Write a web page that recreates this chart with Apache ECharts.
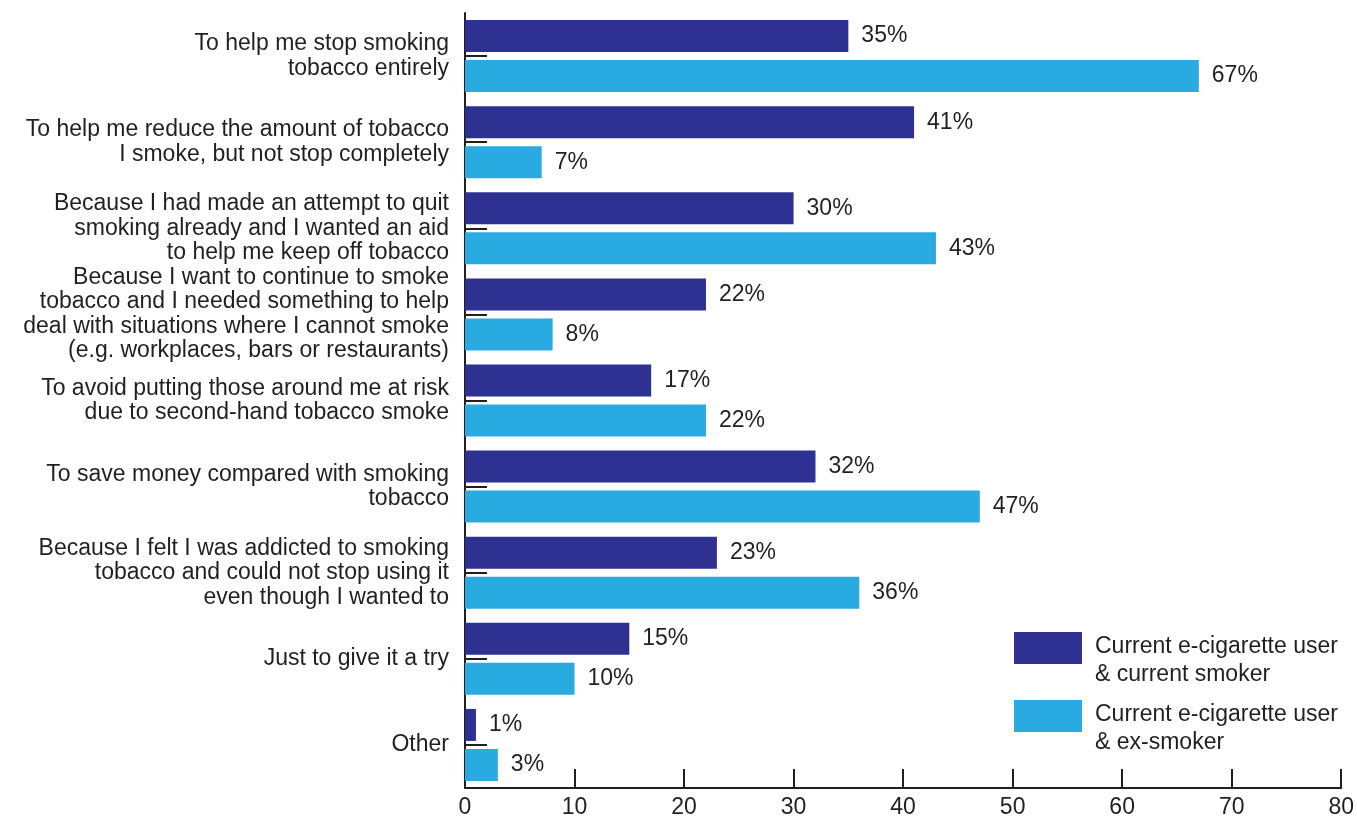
<!DOCTYPE html>
<html>
<head>
<meta charset="utf-8">
<script src="https://cdn.jsdelivr.net/npm/echarts@6/dist/echarts.min.js"></script>
<style>
  html, body { margin: 0; padding: 0; background: #fff; }
  #chart { width: 1357px; height: 819px; }
</style>
</head>
<body>
<div id="chart"></div>
<script>
var categories = [
  'To help me stop smoking\ntobacco entirely',
  'To help me reduce the amount of tobacco\nI smoke, but not stop completely',
  'Because I had made an attempt to quit\nsmoking already and I wanted an aid\nto help me keep off tobacco',
  'Because I want to continue to smoke\ntobacco and I needed something to help\ndeal with situations where I cannot smoke\n(e.g. workplaces, bars or restaurants)',
  'To avoid putting those around me at risk\ndue to second-hand tobacco smoke',
  'To save money compared with smoking\ntobacco',
  'Because I felt I was addicted to smoking\ntobacco and could not stop using it\neven though I wanted to',
  'Just to give it a try',
  'Other'
];
var seriesNames = [
  'Current e-cigarette user\n& current smoker',
  'Current e-cigarette user\n& ex-smoker'
];
var currentSmoker = [35, 41, 30, 22, 17, 32, 23, 15, 1];
var exSmoker = [67, 7, 43, 8, 22, 47, 36, 10, 3];

var font = 'Liberation Sans, Arial, sans-serif';
var ink = '#231f20';
var chart = echarts.init(document.getElementById('chart'));

// swatch sits in the top part of the legend item, text hangs below it
var swatch = 'path://M0,0h68v32h-68z M0,58h0.01v0.01h-0.01z';

function barSeries(name, data, color) {
  return {
    name: name,
    type: 'bar',
    data: data,
    barWidth: 32,
    barGap: '25%',
    itemStyle: { color: color },
    label: {
      show: true,
      position: 'right',
      distance: 13,
      formatter: '{c}%',
      color: ink,
      fontSize: 23,
      fontFamily: font
    }
  };
}

chart.setOption({
  animation: false,
  grid: { left: 465, right: 14, top: 13, bottom: 31, containLabel: false },
  legend: {
    orient: 'vertical',
    left: 1009,
    top: 627,
    itemWidth: 68,
    itemHeight: 58,
    itemGap: 10,
    icon: swatch,
    textStyle: {
      fontSize: 23, fontFamily: font, color: ink,
      lineHeight: 28, padding: [0, 0, 0, 8]
    },
    data: seriesNames
  },
  xAxis: {
    type: 'value',
    min: 0,
    max: 80,
    interval: 10,
    axisLine: { show: true, lineStyle: { color: ink, width: 2 } },
    axisTick: { show: true, inside: true, length: 19, lineStyle: { color: ink, width: 2 } },
    axisLabel: { fontSize: 23, fontFamily: font, color: ink, margin: 8 },
    splitLine: { show: false }
  },
  yAxis: {
    type: 'category',
    inverse: true,
    data: categories,
    axisLine: { show: true, lineStyle: { color: ink, width: 2 } },
    axisTick: { show: true, inside: true, length: 22, alignWithLabel: true, lineStyle: { color: ink, width: 2 } },
    axisLabel: { fontSize: 23, fontFamily: font, color: ink, margin: 16, lineHeight: 24.5, align: 'right' }
  },
  series: [
    barSeries(seriesNames[0], currentSmoker, '#2e3192'),
    barSeries(seriesNames[1], exSmoker, '#29abe2')
  ]
});
</script>
</body>
</html>
